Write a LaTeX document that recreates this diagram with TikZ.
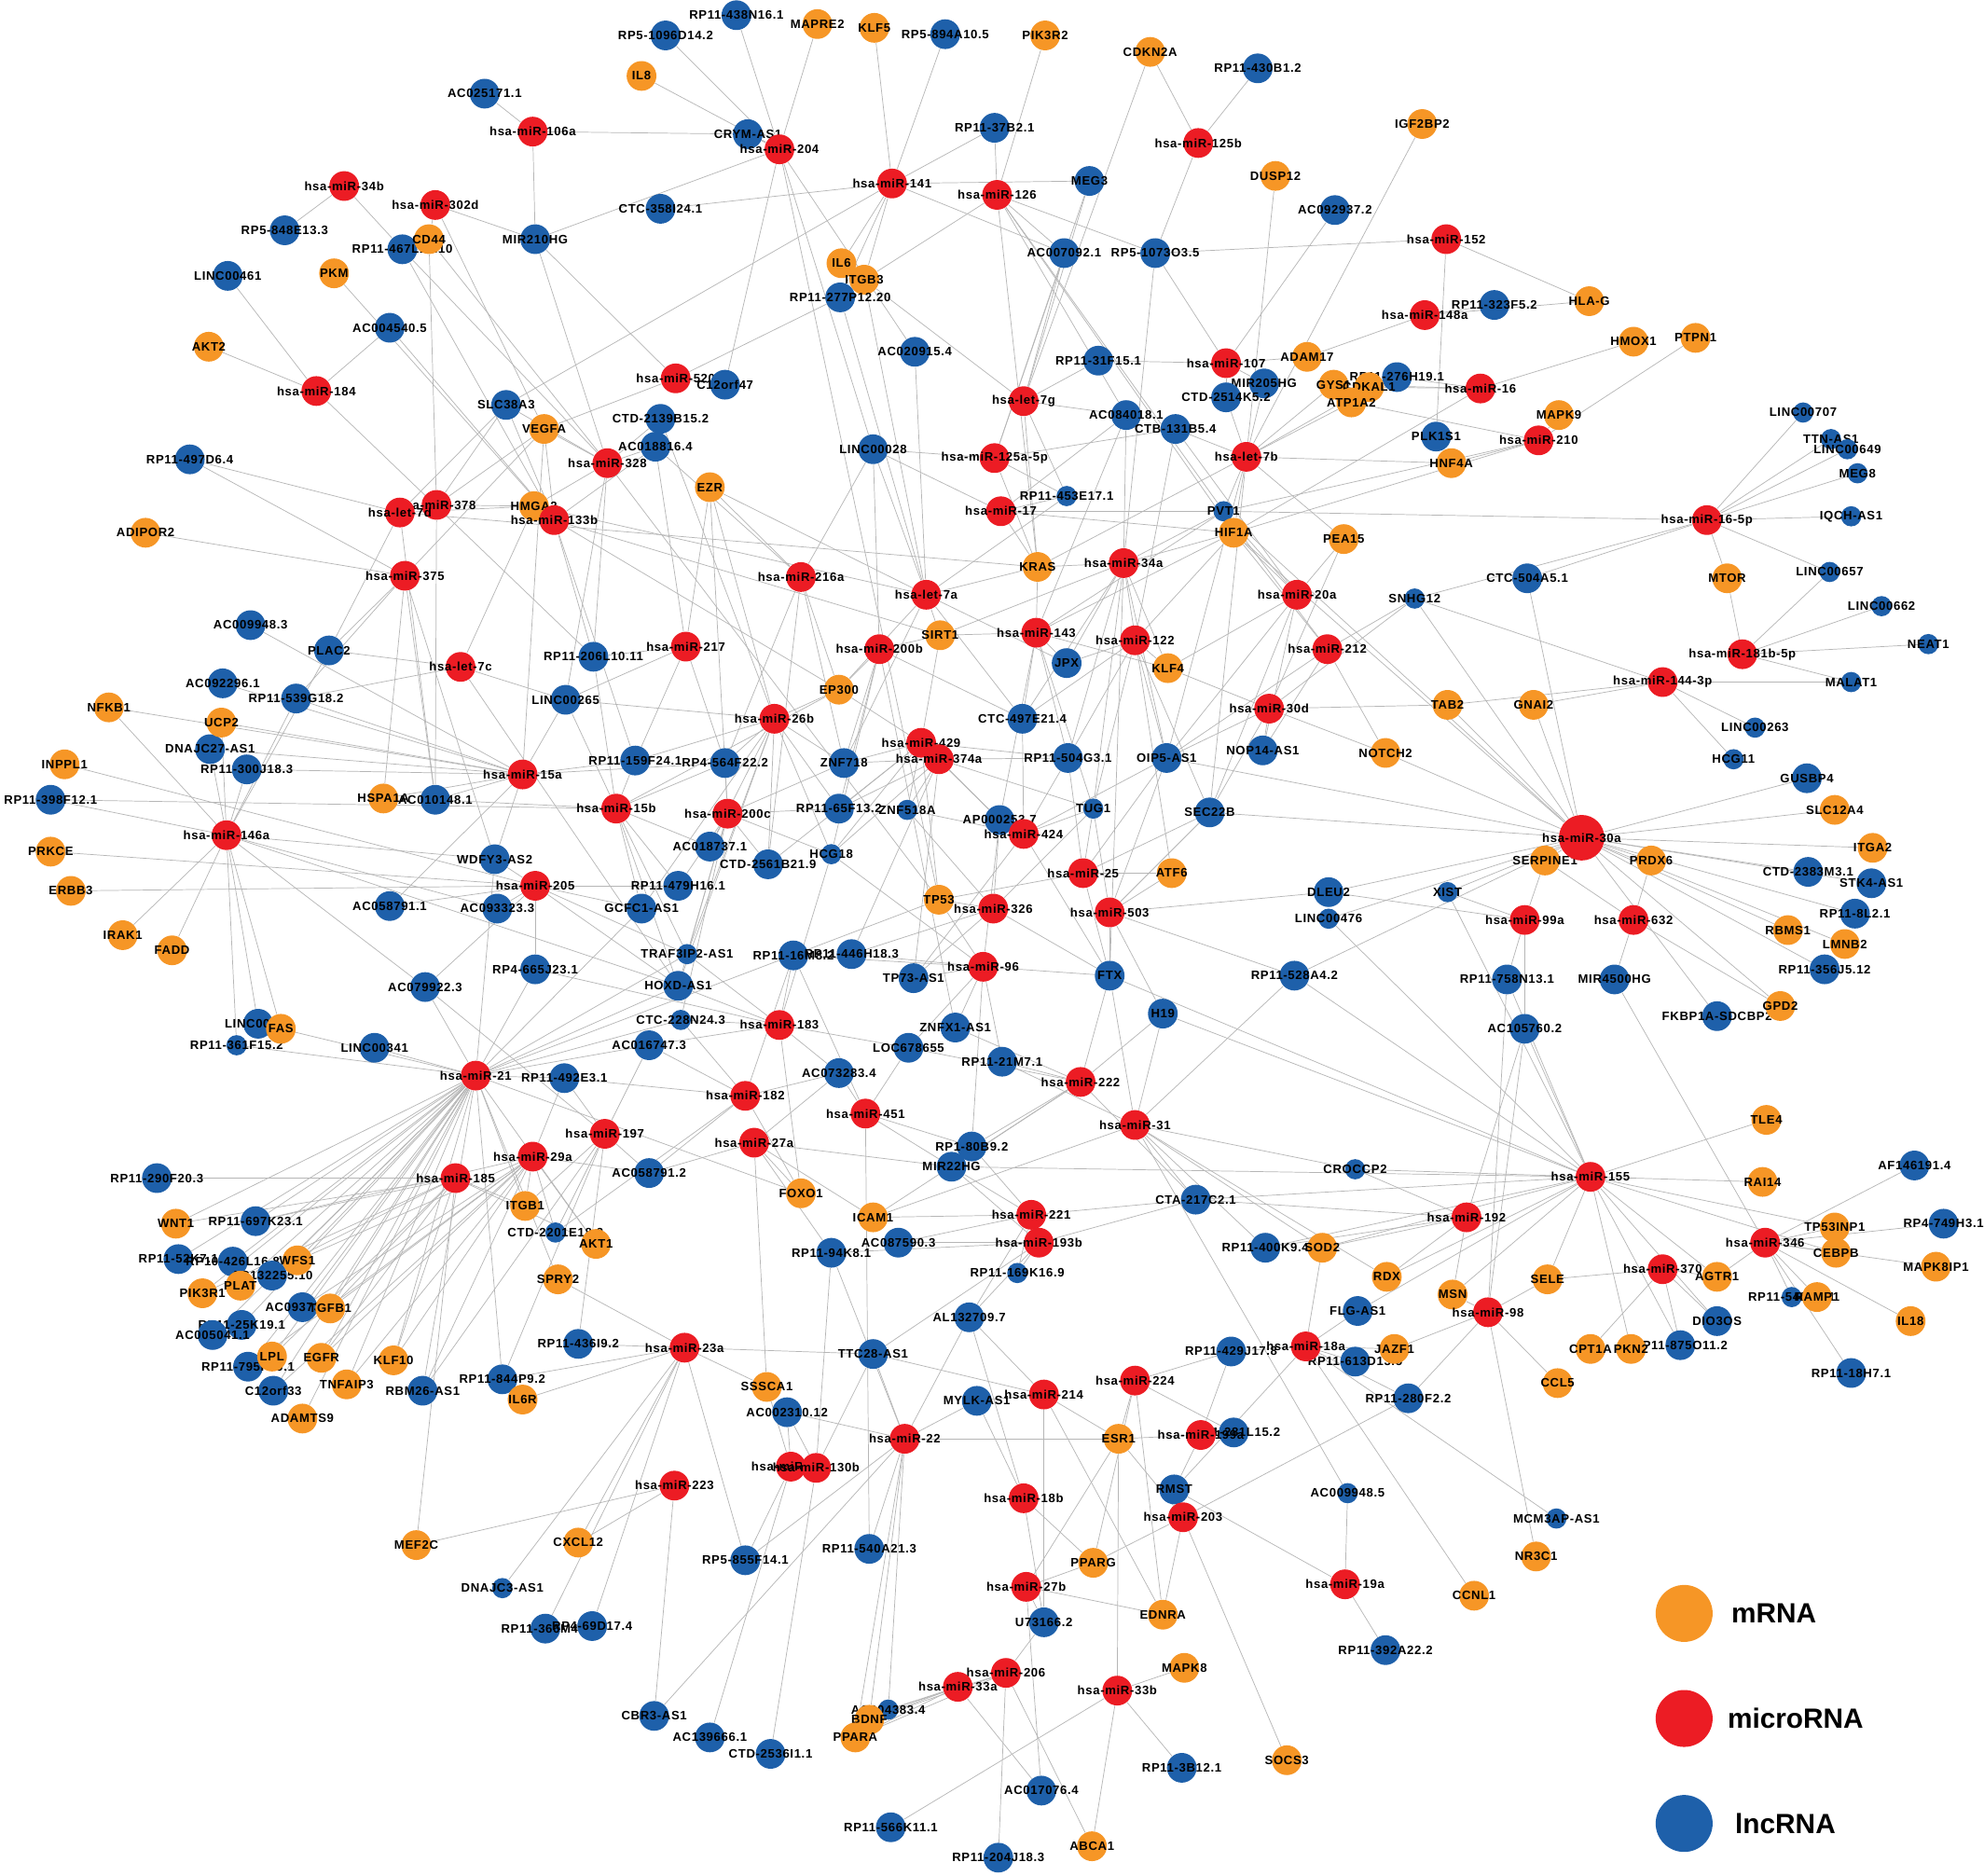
\documentclass[tikz,border=0pt]{standalone}
\usepackage{fontspec}
\setmainfont{Liberation Sans}
\newfontfamily\lblfont{Liberation Sans}[LetterSpace=5]
\usetikzlibrary{backgrounds}

\definecolor{mrnaorange}{RGB}{246,150,38}
\definecolor{mirred}{RGB}{236,28,36}
\definecolor{lncblue}{RGB}{30,96,170}
\definecolor{edgegray}{RGB}{182,182,182}

\tikzset{
  rnadot/.style={circle, inner sep=0pt, minimum size=0.47cm},
  lbl/.style={font=\lblfont\fontsize{5.5}{6}\selectfont\bfseries, inner sep=0pt, text=black},
  mrna/.style={rnadot, fill=mrnaorange, label={[lbl]center:#1}},
  mirna/.style={rnadot, fill=mirred, label={[lbl]center:#1}},
  lncrna/.style={rnadot, fill=lncblue, label={[lbl]center:#1}},
  smalldot/.style={minimum size=0.32cm},
  link/.style={draw=edgegray, line width=0.3pt},
  legdot/.style={circle, inner sep=0pt, minimum size=0.9cm},
  legtext/.style={anchor=west, inner sep=0pt, font=\fontsize{12.5}{14}\selectfont\bfseries},
}

\begin{document}
\begin{tikzpicture}[x=0.02cm, y=-0.02cm]
\useasboundingbox (0,0) rectangle (1568,1482);

% lncRNA nodes
\node[lncrna=RP11-438N16.1] (r438) at (582,12) {};
\node[lncrna=RP5-1096D14.2] (r1096) at (526,28) {};
\node[lncrna=RP5-894A10.5] (r894) at (747,27) {};
\node[lncrna=RP11-430B1.2] (r430) at (994,54) {};
\node[lncrna=AC025171.1] (ac0251) at (383,74) {};
\node[lncrna=CRYM-AS1] (crym) at (591,106) {};
\node[lncrna=RP11-37B2.1] (r37b) at (786,101) {};
\node[lncrna=MEG3] (meg3) at (861,143) {};
\node[lncrna=AC092937.2] (ac0929) at (1055,166) {};
\node[lncrna=RP5-848E13.3] (r848) at (225,182) {};
\node[lncrna=CTC-358I24.1] (ctc358) at (522,165) {};
\node[lncrna=MIR210HG] (mir210hg) at (423,189) {};
\node[lncrna=RP11-467L13.10] (r467) at (318,197) {};
\node[lncrna=LINC00461] (linc461) at (180,218) {};
\node[lncrna=AC007092.1] (ac7092) at (841,200) {};
\node[lncrna=RP5-1073O3.5] (r1073) at (913,200) {};
\node[lncrna=RP11-323F5.2] (r323) at (1181,241) {};
\node[lncrna=AC004540.5] (ac4540) at (308,259) {};
\node[lncrna=AC020915.4] (ac0209) at (723,278) {};
\node[lncrna=RP11-31F15.1] (r31f) at (868,285) {};
\node[lncrna=MIR205HG] (mir205hg) at (999,303) {};
\node[lncrna=CTD-2514K5.2] (ctd2514) at (969,314) {};
\node[lncrna=RP11-276H19.1] (r276) at (1104,298) {};
\node[lncrna=SLC38A3] (slc38a3) at (400,320) {};
\node[lncrna=AC084018.1] (ac0840) at (890,328) {};
\node[lncrna=CTD-2139B15.2] (ctd2139) at (522,331) {};
\node[lncrna=CTB-131B5.4] (ctb131) at (929,339) {};
\node[lncrna=LINC00707, smalldot] (linc707) at (1425,326) {};
\node[lncrna=PLK1S1] (plk1s1) at (1135,345) {};
\node[lncrna=TTN-AS1, smalldot] (ttnas1) at (1447,347) {};
\node[lncrna=LINC00649, smalldot] (linc649) at (1460,355) {};
\node[lncrna=MEG8, smalldot] (meg8) at (1468,374) {};
\node[lncrna=AC018816.4] (ac0188) at (518,353) {};
\node[lncrna=LINC00028] (linc028) at (690,355) {};
\node[lncrna=RP11-497D6.4] (r497) at (150,363) {};
\node[lncrna=RP11-453E17.1, smalldot] (r453) at (843,392) {};
\node[lncrna=PVT1, smalldot] (pvt1) at (967,404) {};
\node[lncrna=IQCH-AS1, smalldot] (iqch) at (1463,408) {};
\node[lncrna=LINC00657, smalldot] (linc657) at (1446,452) {};
\node[lncrna=SNHG12, smalldot] (snhg12) at (1118,473) {};
\node[lncrna=CTC-504A5.1] (ctc504) at (1207,457) {};
\node[lncrna=LINC00662, smalldot] (linc662) at (1487,479) {};
\node[lncrna=AC009948.3] (ac0099483) at (198,494) {};
\node[lncrna=PLAC2] (plac2) at (260,514) {};
\node[lncrna=NEAT1, smalldot] (neat1) at (1524,509) {};
\node[lncrna=RP11-206L10.11] (r206l) at (469,519) {};
\node[lncrna=JPX] (jpx) at (843,524) {};
\node[lncrna=AC092296.1] (ac0922) at (176,540) {};
\node[lncrna=MALAT1, smalldot] (malat1) at (1463,539) {};
\node[lncrna=LINC00265] (linc265) at (447,553) {};
\node[lncrna=RP11-539G18.2] (r539) at (234,552) {};
\node[lncrna=CTC-497E21.4] (ctc497) at (808,568) {};
\node[lncrna=DNAJC27-AS1] (dnajc27) at (166,592) {};
\node[lncrna=LINC00263, smalldot] (linc263) at (1387,575) {};
\node[lncrna=ZNF718] (znf718) at (667,603) {};
\node[lncrna=RP4-564F22.2] (r564) at (573,603) {};
\node[lncrna=RP11-159F24.1] (r159) at (502,601) {};
\node[lncrna=RP11-504G3.1] (r504) at (844,599) {};
\node[lncrna=OIP5-AS1] (oip5) at (922,599) {};
\node[lncrna=NOP14-AS1] (nop14) at (998,593) {};
\node[lncrna=RP11-300J18.3] (r300) at (195,608) {};
\node[lncrna=HCG11, smalldot] (hcg11) at (1370,600) {};
\node[lncrna=GUSBP4] (gusbp4) at (1428,615) {};
\node[lncrna=RP11-398F12.1] (r398) at (40,632) {};
\node[lncrna=AC010148.1] (ac0101) at (344,632) {};
\node[lncrna=RP11-65F13.2] (r65) at (663,639) {};
\node[lncrna=TUG1, smalldot] (tug1) at (864,639) {};
\node[lncrna=SEC22B] (sec22b) at (956,642) {};
\node[lncrna=ZNF518A, smalldot] (znf518a) at (717,640) {};
\node[lncrna=AP000253.7] (ap0002) at (790,648) {};
\node[lncrna=AC018737.1] (ac0187) at (561,669) {};
\node[lncrna=HCG18, smalldot] (hcg18) at (657,675) {};
\node[lncrna=WDFY3-AS2] (wdfy3) at (391,679) {};
\node[lncrna=CTD-2383M3.1] (ctd2383) at (1429,689) {};
\node[lncrna=STK4-AS1] (stk4) at (1479,698) {};
\node[lncrna=CTD-2561B21.9] (ctd2561) at (607,683) {};
\node[lncrna=RP11-479H16.1] (r479) at (536,700) {};
\node[lncrna=AC058791.1] (ac0587911) at (308,716) {};
\node[lncrna=AC093323.3] (ac0933) at (393,718) {};
\node[lncrna=GCFC1-AS1] (gcfc1) at (507,718) {};
\node[lncrna=DLEU2] (dleu2) at (1050,705) {};
\node[lncrna=XIST, smalldot] (xist) at (1144,705) {};
\node[lncrna=LINC00476, smalldot] (linc476) at (1050,726) {};
\node[lncrna=RP11-8L2.1] (r8l2) at (1466,722) {};
\node[lncrna=TRAF3IP2-AS1, smalldot] (traf3) at (543,754) {};
\node[lncrna=RP11-16M8.2] (r16m) at (627,755) {};
\node[lncrna=RP11-446H18.3] (r446) at (673,754) {};
\node[lncrna=AC079922.3] (ac0799) at (336,780) {};
\node[lncrna=RP4-665J23.1] (r665) at (423,766) {};
\node[lncrna=FTX] (ftx) at (877,771) {};
\node[lncrna=RP11-528A4.2] (r528) at (1023,771) {};
\node[lncrna=MIR4500HG] (mir4500) at (1276,774) {};
\node[lncrna=RP11-356J5.12] (r356) at (1442,766) {};
\node[lncrna=HOXD-AS1] (hoxd) at (536,779) {};
\node[lncrna=TP73-AS1] (tp73) at (722,773) {};
\node[lncrna=RP11-758N13.1] (r758) at (1191,774) {};
\node[lncrna=H19] (h19) at (919,801) {};
\node[lncrna=FKBP1A-SDCBP2] (fkbp1a) at (1357,803) {};
\node[lncrna=LINC00116] (linc116) at (204,809) {};
\node[lncrna=CTC-228N24.3, smalldot] (ctc228) at (538,806) {};
\node[lncrna=ZNFX1-AS1] (znfx1) at (755,812) {};
\node[lncrna=AC105760.2] (ac1057) at (1205,813) {};
\node[lncrna=LINC00341] (linc341) at (296,828) {};
\node[lncrna=RP11-361F15.2, smalldot] (r361) at (187,826) {};
\node[lncrna=AC016747.3] (ac0167) at (513,826) {};
\node[lncrna=LOC678655] (loc678) at (718,828) {};
\node[lncrna=RP11-21M7.1] (r21m7) at (792,839) {};
\node[lncrna=RP11-492E3.1] (r492) at (446,852) {};
\node[lncrna=AC073283.4] (ac0732) at (663,848) {};
\node[lncrna=RP1-80B9.2] (r80b9) at (768,906) {};
\node[lncrna=MIR22HG] (mir22hg) at (752,922) {};
\node[lncrna=AF146191.4] (af146) at (1513,921) {};
\node[lncrna=AC058791.2] (ac0587912) at (513,927) {};
\node[lncrna=CROCCP2, smalldot] (croccp2) at (1071,924) {};
\node[lncrna=RP11-290F20.3] (r290) at (124,931) {};
\node[lncrna=CTA-217C2.1] (cta217) at (945,948) {};
\node[lncrna=CTD-2201E18.3, smalldot] (ctd2201) at (439,974) {};
\node[lncrna=RP4-749H3.1] (r749) at (1536,967) {};
\node[lncrna=RP11-697K23.1] (r697) at (202,965) {};
\node[lncrna=AC087590.3] (ac0875) at (710,982) {};
\node[lncrna=RP11-94K8.1] (r94k) at (657,990) {};
\node[lncrna=RP11-400K9.4] (r400k) at (1000,986) {};
\node[lncrna=RP11-52K7.1] (r52k) at (141,995) {};
\node[lncrna=RP10-426L16.8] (r426) at (184,997) {};
\node[lncrna=AC132255.10] (r32255) at (215,1008) {};
\node[lncrna=RP11-169K16.9, smalldot] (r169) at (804,1006) {};
\node[lncrna=RP11-540A2.1, smalldot] (r540) at (1416,1025) {};
\node[lncrna=DIO3OS] (dio3os) at (1357,1044) {};
\node[lncrna=AC093734.1] (ac0937) at (239,1033) {};
\node[lncrna=RP11-25K19.1] (r25k) at (191,1047) {};
\node[lncrna=AC005041.1] (ac0050) at (168,1055) {};
\node[lncrna=AL132709.7] (al1327) at (766,1041) {};
\node[lncrna=FLG-AS1] (flgas1) at (1073,1036) {};
\node[lncrna=RP11-875O11.2] (r875) at (1328,1063) {};
\node[lncrna=RP11-18H7.1] (r18h7) at (1463,1085) {};
\node[lncrna=RP11-436I9.2] (r436) at (457,1062) {};
\node[lncrna=RP11-795F19.1] (rp795) at (196,1080) {};
\node[lncrna=TTC28-AS1] (ttc28) at (690,1070) {};
\node[lncrna=RP11-429J17.8] (r429j) at (973,1068) {};
\node[lncrna=RP11-613D13.5] (r613) at (1071,1076) {};
\node[lncrna=C12orf33] (c12orf33) at (216,1099) {};
\node[lncrna=RP11-844P9.2] (r844) at (397,1090) {};
\node[lncrna=RBM26-AS1] (rbm26) at (334,1099) {};
\node[lncrna=MYLK-AS1] (mylk) at (772,1107) {};
\node[lncrna=RP11-280F2.2] (r280) at (1113,1105) {};
\node[lncrna=AC002310.12] (ac0023) at (622,1116) {};
\node[lncrna=RP11-281L15.2] (r81l) at (975,1132) {};
\node[lncrna=RMST] (rmst) at (928,1177) {};
\node[lncrna=AC009948.5, smalldot] (ac0099485) at (1065,1180) {};
\node[lncrna=MCM3AP-AS1, smalldot] (mcm3ap) at (1230,1200) {};
\node[lncrna=RP5-855F14.1] (r855) at (589,1233) {};
\node[lncrna=RP11-540A21.3] (r540a) at (687,1224) {};
\node[lncrna=DNAJC3-AS1, smalldot] (dnajc3) at (397,1255) {};
\node[lncrna=U73166.2] (u73166) at (825,1282) {};
\node[lncrna=RP11-366M4.1] (r366) at (431,1287) {};
\node[lncrna=RP4-69D17.4] (r69d) at (468,1285) {};
\node[lncrna=RP11-392A22.2] (r392) at (1095,1304) {};
\node[lncrna=CBR3-AS1] (cbr3) at (517,1356) {};
\node[lncrna=AC004383.4, smalldot] (ac0043) at (702,1351) {};
\node[lncrna=AC139666.1] (ac1396) at (561,1373) {};
\node[lncrna=CTD-2536I1.1] (ctd2536) at (609,1386) {};
\node[lncrna=RP11-3B12.1] (r3b12) at (934,1397) {};
\node[lncrna=AC017076.4] (ac0170) at (823,1415) {};
\node[lncrna=RP11-566K11.1] (r566) at (704,1444) {};
\node[lncrna=RP11-204J18.3] (r204j) at (789,1468) {};

% mRNA nodes
\node[mrna=MAPRE2] (mapre2) at (646,19) {};
\node[mrna=KLF5] (klf5) at (691,22) {};
\node[mrna=PIK3R2] (pik3r2) at (826,28) {};
\node[mrna=CDKN2A] (cdkn2a) at (909,41) {};
\node[mrna=IL8] (il8) at (507,60) {};
\node[mrna=IGF2BP2] (igf2bp2) at (1124,98) {};
\node[mrna=DUSP12] (dusp12) at (1008,139) {};
\node[mrna=CD44] (cd44) at (339,189) {};
\node[mrna=PKM] (pkm) at (264,216) {};
\node[mrna=IL6] (il6) at (665,208) {};
\node[mrna=ITGB3] (itgb3) at (683,221) {};
\node[lncrna=RP11-277P12.20] (r277) at (664,235) {};
\node[mrna=HLA-G] (hlag) at (1256,238) {};
\node[mrna=AKT2] (akt2) at (165,274) {};
\node[mrna=HMOX1] (hmox1) at (1291,270) {};
\node[mrna=PTPN1] (ptpn1) at (1340,267) {};
\node[mrna=ADAM17] (adam17) at (1033,282) {};
\node[mrna=GYS1] (gys1) at (1054,304) {};
\node[mrna=CDKAL1] (cdkal1) at (1082,306) {};
\node[mrna=ATP1A2] (atp1a2) at (1068,318) {};
\node[mrna=MAPK9] (mapk9) at (1232,328) {};
\node[mrna=VEGFA] (vegfa) at (430,339) {};
\node[mrna=HNF4A] (hnf4a) at (1147,366) {};
\node[mrna=EZR] (ezr) at (561,385) {};
\node[mrna=HMGA2] (hmga2) at (422,400) {};
\node[mrna=HIF1A] (hif1a) at (975,421) {};
\node[mrna=ADIPOR2] (adipor2) at (115,421) {};
\node[mrna=PEA15] (pea15) at (1062,426) {};
\node[mrna=KRAS] (kras) at (820,448) {};
\node[mrna=MTOR] (mtor) at (1365,457) {};
\node[mrna=SIRT1] (sirt1) at (743,502) {};
\node[mrna=KLF4] (klf4) at (923,528) {};
\node[mrna=NFKB1] (nfkb1) at (86,559) {};
\node[mrna=EP300] (ep300) at (663,545) {};
\node[mrna=TAB2] (tab2) at (1144,557) {};
\node[mrna=GNAI2] (gnai2) at (1212,557) {};
\node[mrna=UCP2] (ucp2) at (175,571) {};
\node[mrna=NOTCH2] (notch2) at (1095,595) {};
\node[mrna=INPPL1] (inppl1) at (51,604) {};
\node[mrna=HSPA1A] (hspa1a) at (303,631) {};
\node[mrna=SLC12A4] (slc12a4) at (1450,640) {};
\node[mrna=ITGA2] (itga2) at (1480,670) {};
\node[mrna=PRDX6] (prdx6) at (1305,680) {};
\node[mrna=SERPINE1] (serpine1) at (1221,680) {};
\node[mrna=PRKCE] (prkce) at (40,673) {};
\node[mrna=ATF6] (atf6) at (926,690) {};
\node[mrna=ERBB3] (erbb3) at (56,704) {};
\node[mrna=TP53] (tp53) at (742,711) {};
\node[mrna=RBMS1] (rbms1) at (1413,735) {};
\node[mrna=LMNB2] (lmnb2) at (1458,746) {};
\node[mrna=IRAK1] (irak1) at (97,739) {};
\node[mrna=FADD] (fadd) at (136,751) {};
\node[mrna=GPD2] (gpd2) at (1407,795) {};
\node[mrna=FAS] (fas) at (222,813) {};
\node[mrna=TLE4] (tle4) at (1396,885) {};
\node[mrna=RAI14] (rai14) at (1393,934) {};
\node[mrna=FOXO1] (foxo1) at (633,943) {};
\node[mrna=ICAM1] (icam1) at (690,962) {};
\node[mrna=ITGB1] (itgb1) at (415,953) {};
\node[mrna=WNT1] (wnt1) at (139,967) {};
\node[mrna=TP53INP1] (tp53inp1) at (1450,970) {};
\node[mrna=CEBPB] (cebpb) at (1451,990) {};
\node[mrna=MAPK8IP1] (mapk8ip1) at (1530,1001) {};
\node[mrna=AKT1] (akt1) at (471,983) {};
\node[mrna=SOD2] (sod2) at (1045,986) {};
\node[mrna=WFS1] (wfs1) at (235,996) {};
\node[mrna=PIK3R1] (pik3r1) at (160,1022) {};
\node[mrna=PLAT] (plat) at (190,1016) {};
\node[mrna=SPRY2] (spry2) at (441,1011) {};
\node[mrna=RDX] (rdx) at (1096,1009) {};
\node[mrna=MSN] (msn) at (1148,1023) {};
\node[mrna=SELE] (sele) at (1223,1011) {};
\node[mrna=AGTR1] (agtr1) at (1357,1009) {};
\node[mrna=RAMP1] (ramp1) at (1436,1025) {};
\node[mrna=IL18] (il18) at (1510,1044) {};
\node[mrna=TGFB1] (tgfb1) at (261,1034) {};
\node[mrna=CPT1A] (cpt1a) at (1257,1066) {};
\node[mrna=PKN2] (pkn2) at (1289,1066) {};
\node[mrna=LPL] (lpl) at (215,1072) {};
\node[mrna=EGFR] (egfr) at (254,1073) {};
\node[mrna=KLF10] (klf10) at (311,1075) {};
\node[mrna=JAZF1] (jazf1) at (1102,1066) {};
\node[mrna=SSSCA1] (sssca1) at (606,1096) {};
\node[mrna=TNFAIP3] (tnfaip3) at (274,1094) {};
\node[mrna=IL6R] (il6r) at (413,1106) {};
\node[mrna=CCL5] (ccl5) at (1231,1093) {};
\node[mrna=ADAMTS9] (adamts9) at (239,1121) {};
\node[mrna=ESR1] (esr1) at (884,1137) {};
\node[mrna=CXCL12] (cxcl12) at (457,1219) {};
\node[mrna=MEF2C] (mef2c) at (329,1221) {};
\node[mrna=PPARG] (pparg) at (864,1235) {};
\node[mrna=NR3C1] (nr3c1) at (1214,1230) {};
\node[mrna=CCNL1] (ccnl1) at (1165,1261) {};
\node[mrna=EDNRA] (ednra) at (919,1276) {};
\node[mrna=MAPK8] (mapk8) at (936,1318) {};
\node[mrna=BDNF] (bdnf) at (687,1359) {};
\node[mrna=PPARA] (ppara) at (676,1373) {};
\node[mrna=SOCS3] (socs3) at (1017,1391) {};
\node[mrna=ABCA1] (abca1) at (863,1459) {};

% miRNA nodes
\node[mirna=hsa-miR-106a] (r106a) at (421,104) {};
\node[mirna=hsa-miR-204] (r204) at (616,118) {};
\node[mirna=hsa-miR-125b] (r125b) at (947,113) {};
\node[mirna=hsa-miR-34b] (r34b) at (272,147) {};
\node[mirna=hsa-miR-141] (r141) at (705,145) {};
\node[mirna=hsa-miR-126] (r126) at (788,154) {};
\node[mirna=hsa-miR-302d] (r302d) at (344,162) {};
\node[mirna=hsa-miR-152] (r152) at (1143,189) {};
\node[mirna=hsa-miR-148a] (r148a) at (1126,249) {};
\node[mirna=hsa-miR-107] (r107) at (969,287) {};
\node[mirna=hsa-miR-16] (r16) at (1170,307) {};
\node[mirna=hsa-miR-184] (r184) at (250,309) {};
\node[mirna=hsa-miR-520] (r520) at (534,299) {};
\node[lncrna=C12orf47] (c12orf47) at (573,304) {};
\node[mirna=hsa-let-7g] (let7g) at (809,317) {};
\node[mirna=hsa-miR-210] (r210) at (1216,348) {};
\node[mirna=hsa-miR-125a-5p] (r125a) at (786,362) {};
\node[mirna=hsa-let-7b] (let7b) at (985,361) {};
\node[mirna=hsa-miR-328] (r328) at (480,366) {};
\node[mirna=hsa-miR-378] (r378) at (345,399) {};
\node[mirna=hsa-let-7d] (let7d) at (316,405) {};
\node[mirna=hsa-miR-133b] (r133b) at (438,411) {};
\node[mirna=hsa-miR-17] (r17) at (791,404) {};
\node[mirna=hsa-miR-16-5p] (r165p) at (1349,411) {};
\node[mirna=hsa-miR-34a] (r34a) at (888,445) {};
\node[mirna=hsa-miR-375] (r375) at (320,455) {};
\node[mirna=hsa-miR-216a] (r216a) at (633,456) {};
\node[mirna=hsa-let-7a] (let7a) at (732,470) {};
\node[mirna=hsa-miR-20a] (r20a) at (1025,470) {};
\node[mirna=hsa-miR-143] (r143) at (819,500) {};
\node[mirna=hsa-miR-122] (r122) at (897,506) {};
\node[mirna=hsa-miR-200b] (r200b) at (695,513) {};
\node[mirna=hsa-miR-217] (r217) at (542,511) {};
\node[mirna=hsa-miR-212] (r212) at (1049,513) {};
\node[mirna=hsa-miR-181b-5p] (r181b) at (1377,517) {};
\node[mirna=hsa-let-7c] (let7c) at (364,527) {};
\node[mirna=hsa-miR-144-3p] (r1443p) at (1314,539) {};
\node[mirna=hsa-miR-30d] (r30d) at (1003,560) {};
\node[mirna=hsa-miR-26b] (r26b) at (612,568) {};
\node[mirna=hsa-miR-429] (r429) at (728,587) {};
\node[mirna=hsa-miR-374a] (r374a) at (742,600) {};
\node[mirna=hsa-miR-15a] (r15a) at (413,612) {};
\node[mirna=hsa-miR-15b] (r15b) at (487,639) {};
\node[mirna=hsa-miR-200c] (r200c) at (575,643) {};
\node[mirna=hsa-miR-30a, minimum size=0.72cm] (r30a) at (1250,662) {};
\node[mirna=hsa-miR-424] (r424) at (809,659) {};
\node[mirna=hsa-miR-146a] (r146a) at (179,660) {};
\node[mirna=hsa-miR-25] (r25) at (856,690) {};
\node[mirna=hsa-miR-205] (r205) at (423,700) {};
\node[mirna=hsa-miR-326] (r326) at (785,718) {};
\node[mirna=hsa-miR-503] (r503) at (877,721) {};
\node[mirna=hsa-miR-99a] (r99a) at (1205,727) {};
\node[mirna=hsa-miR-632] (r632) at (1291,727) {};
\node[mirna=hsa-miR-96] (r96) at (777,764) {};
\node[mirna=hsa-miR-183] (r183) at (616,810) {};
\node[mirna=hsa-miR-21] (r21) at (376,850) {};
\node[mirna=hsa-miR-222] (r222) at (854,855) {};
\node[mirna=hsa-miR-182] (r182) at (589,866) {};
\node[mirna=hsa-miR-451] (r451) at (684,880) {};
\node[mirna=hsa-miR-31] (r31) at (897,889) {};
\node[mirna=hsa-miR-197] (r197) at (478,896) {};
\node[mirna=hsa-miR-27a] (r27a) at (596,903) {};
\node[mirna=hsa-miR-29a] (r29a) at (421,914) {};
\node[mirna=hsa-miR-155] (r155) at (1257,930) {};
\node[mirna=hsa-miR-185] (r185) at (360,931) {};
\node[mirna=hsa-miR-221] (r221) at (815,960) {};
\node[mirna=hsa-miR-192] (r192) at (1159,962) {};
\node[mirna=hsa-miR-193b] (r193b) at (821,982) {};
\node[mirna=hsa-miR-346] (r346) at (1395,982) {};
\node[mirna=hsa-miR-370] (r370) at (1314,1003) {};
\node[mirna=hsa-miR-98] (r98) at (1176,1037) {};
\node[mirna=hsa-miR-23a] (r23a) at (541,1065) {};
\node[mirna=hsa-miR-18a] (r18a) at (1032,1064) {};
\node[mirna=hsa-miR-224] (r224) at (897,1091) {};
\node[mirna=hsa-miR-214] (r214) at (825,1102) {};
\node[mirna=hsa-miR-22] (r22) at (715,1137) {};
\node[mirna=hsa-miR-199a] (r199a) at (949,1134) {};
\node[mirna=hsa-miR-186] (r186) at (625,1159) {};
\node[mirna=hsa-miR-130b] (r130b) at (645,1160) {};
\node[mirna=hsa-miR-223] (r223) at (533,1174) {};
\node[mirna=hsa-miR-18b] (r18b) at (809,1184) {};
\node[mirna=hsa-miR-203] (r203) at (935,1199) {};
\node[mirna=hsa-miR-27b] (r27b) at (811,1254) {};
\node[mirna=hsa-miR-19a] (r19a) at (1063,1252) {};
\node[mirna=hsa-miR-206] (r206) at (795,1322) {};
\node[mirna=hsa-miR-33a] (r33a) at (757,1333) {};
\node[mirna=hsa-miR-33b] (r33b) at (883,1336) {};

% legend
\node[legdot, fill=mrnaorange] (legm) at (1331,1275) {};
\node[legtext] (legmtxt) at (1368,1275) {mRNA};
\node[legdot, fill=mirred] (legmi) at (1331,1358) {};
\node[legtext] (legmitxt) at (1365,1358) {microRNA};
\node[legdot, fill=lncblue] (legl) at (1331,1441) {};
\node[legtext] (legltxt) at (1371,1441) {lncRNA};

% interactions
\begin{scope}[on background layer]
\fill[white] (0,0) rectangle (1568,1482);
\foreach \t in {crym,mir210hg,ac0251} \draw[link] (r106a) -- (\t);
\foreach \t in {crym,r438,mapre2,r1096,il8,mir210hg,c12orf47,ac0209,linc028,tp53} \draw[link] (r204) -- (\t);
\foreach \t in {klf5,r894,r37b,ctc358,il6,itgb3,ac7092,meg3,slc38a3,r277} \draw[link] (r141) -- (\t);
\foreach \t in {pik3r2,r37b,itgb3,ac7092,r1073,ac0840,kras,pvt1,hif1a} \draw[link] (r126) -- (\t);
\foreach \t in {cdkn2a,r430,r1073} \draw[link] (r125b) -- (\t);
\foreach \t in {r848,r467} \draw[link] (r34b) -- (\t);
\foreach \t in {mir210hg,vegfa,cd44} \draw[link] (r302d) -- (\t);
\foreach \t in {linc461,akt2,ac4540,r206l} \draw[link] (r184) -- (\t);
\foreach \t in {mir210hg,vegfa,c12orf47,r277} \draw[link] (r520) -- (\t);
\foreach \t in {ac0188,ctd2139,vegfa,hmga2,mir210hg,cd44,r467,slc38a3,tp53,r206l,linc265} \draw[link] (r328) -- (\t);
\foreach \t in {pkm,ac4540,r467,hmga2,vegfa,slc38a3,sirt1,ep300,r206l,r159,ac0188} \draw[link] (r133b) -- (\t);
\foreach \t in {slc38a3,hmga2,vegfa,ac0101,cd44} \draw[link] (r378) -- (\t);
\foreach \t in {hmga2,slc38a3,kras,ac0101,plac2,r497} \draw[link] (let7d) -- (\t);
\foreach \t in {adipor2,r497,vegfa,plac2,ac0101,r539,wdfy3,hspa1a} \draw[link] (r375) -- (\t);
\foreach \t in {plac2,hmga2,linc265,hoxd,r539} \draw[link] (let7c) -- (\t);
\foreach \t in {nfkb1,r398,irak1,fadd,linc116,fas,r361,r300,r539,dnajc27,ucp2,wdfy3,ac0933,ac0799,plac2,hoxd} \draw[link] (r146a) -- (\t);
\foreach \t in {ucp2,dnajc27,r300,r539,ac0922,nfkb1,hspa1a,ac0101,wdfy3,r159,r564,linc265,ac0099483,vegfa,ac0587911} \draw[link] (r15a) -- (\t);
\foreach \t in {r159,linc265,ac0187,gcfc1,r479,hoxd,r564,ep300,traf3,ac0101,r398,r206l} \draw[link] (r15b) -- (\t);
\foreach \t in {wdfy3,ac0933,ac0587911,erbb3,prkce,inppl1,gcfc1,r665,ac0799,hoxd,r479,traf3} \draw[link] (r205) -- (\t);
\foreach \t in {r206l,linc265,r564,ezr,ac0188,r159} \draw[link] (r217) -- (\t);
\foreach \t in {ezr,ac0188,linc028,r564,znf718,ctd2561,ep300} \draw[link] (r216a) -- (\t);
\foreach \t in {ep300,r564,znf718,r65,ac0187,ctd2561,hcg18,traf3,hoxd,gcfc1,ctd2139,ezr,linc265,r159} \draw[link] (r26b) -- (\t);
\foreach \t in {r564,ac0187,ctd2561,r479,hcg18,znf718,r65,traf3,hoxd,ctc228,ezr} \draw[link] (r200c) -- (\t);
\foreach \t in {sirt1,ep300,znf718,r65,linc028,ctc497,hcg18,znfx1} \draw[link] (r200b) -- (\t);
\foreach \t in {znf718,r65,znf518a,ap0002,tp53,ctd2561,hcg18,ep300,sirt1,r504} \draw[link] (r429) -- (\t);
\foreach \t in {znf718,znf518a,r65,tug1,ap0002,r504,tp73,hcg18,r446} \draw[link] (r374a) -- (\t);
\foreach \t in {linc028,r277,itgb3,kras,sirt1,ep300,ac0209,hmga2,ezr,r453,znf718,ctc497,jpx} \draw[link] (let7a) -- (\t);
\foreach \t in {kras,sirt1,jpx,ctc497,r504,klf4,pvt1,hif1a,tug1,ap0002,ac0840} \draw[link] (r143) -- (\t);
\foreach \t in {jpx,klf4,oip5,r504,tug1,ctb131,hif1a,ctc497,sec22b} \draw[link] (r122) -- (\t);
\foreach \t in {ac0840,r453,kras,pvt1,linc028,hif1a} \draw[link] (r17) -- (\t);
\foreach \t in {meg3,ac7092,r453,kras,ctb131,linc028} \draw[link] (r125a) -- (\t);
\foreach \t in {cdkn2a,meg3,r31f,ac0840,r453,kras,ac7092,itgb3} \draw[link] (let7g) -- (\t);
\foreach \t in {ac0840,r1073,hif1a,pvt1,kras,sirt1,jpx,klf4,oip5,tug1,r504,ctc497,atf6,ftx} \draw[link] (r34a) -- (\t);
\foreach \t in {r31f,ac0929,mir205hg,ctd2514,r1073,adam17} \draw[link] (r107) -- (\t);
\foreach \t in {dusp12,igf2bp2,mir205hg,ctd2514,ctb131,pvt1,hif1a,gys1,atp1a2,cdkal1,hnf4a,pea15,kras,oip5,sec22b} \draw[link] (let7b) -- (\t);
\foreach \t in {hif1a,pvt1,ctb131,pea15,oip5,sec22b,klf4,nop14} \draw[link] (r20a) -- (\t);
\foreach \t in {hif1a,pvt1,oip5,nop14,snhg12,notch2} \draw[link] (r212) -- (\t);
\foreach \t in {nop14,tab2,oip5,klf4,sec22b,notch2,pea15,snhg12} \draw[link] (r30d) -- (\t);
\foreach \t in {hmox1,r276,cdkal1,gys1,hif1a} \draw[link] (r16) -- (\t);
\foreach \t in {hlag,r323,adam17} \draw[link] (r148a) -- (\t);
\foreach \t in {r1073,plk1s1,hlag} \draw[link] (r152) -- (\t);
\foreach \t in {ptpn1,mapk9,hnf4a,atp1a2,hif1a,pvt1} \draw[link] (r210) -- (\t);
\foreach \t in {linc707,ttnas1,linc649,meg8,iqch,linc657,mtor,pvt1,snhg12,ctc504} \draw[link] (r165p) -- (\t);
\foreach \t in {neat1,malat1,mtor,linc657,linc662} \draw[link] (r181b) -- (\t);
\foreach \t in {malat1,gnai2,linc263,hcg11,tab2,snhg12} \draw[link] (r1443p) -- (\t);
\foreach \t in {gusbp4,slc12a4,itga2,ctd2383,stk4,r8l2,rbms1,lmnb2,r356,gpd2,fkbp1a,prdx6,serpine1,gnai2,tab2,xist,dleu2,linc476,snhg12,notch2,hif1a,sec22b,ctc504,pvt1,oip5,r528} \draw[link] (r30a) -- (\t);
\foreach \t in {serpine1,r758,ac1057,xist,dleu2} \draw[link] (r99a) -- (\t);
\foreach \t in {prdx6,mir4500,serpine1,gpd2} \draw[link] (r632) -- (\t);
\foreach \t in {tle4,rai14,tp53inp1,cebpb,agtr1,sele,msn,dio3os,r875,pkn2,ac1057,r758,croccp2,cta217,sod2,rdx,flgas1,r400k,xist,r528,linc476,h19,ftx,mir22hg} \draw[link] (r155) -- (\t);
\foreach \t in {af146,r749,tp53inp1,cebpb,mapk8ip1,il18,r540,ramp1,r18h7,mir4500,agtr1} \draw[link] (r346) -- (\t);
\foreach \t in {agtr1,dio3os,r875,cpt1a,sele} \draw[link] (r370) -- (\t);
\foreach \t in {croccp2,sod2,rdx,msn,r400k,cta217,ac1057} \draw[link] (r192) -- (\t);
\foreach \t in {msn,jazf1,ccl5,r280,sele,ac1057,r758,nr3c1} \draw[link] (r98) -- (\t);
\foreach \t in {r429j,r613,jazf1,sod2,flgas1,rmst,r280,ccnl1,mcm3ap} \draw[link] (r18a) -- (\t);
\foreach \t in {ac0099485,r392,rmst} \draw[link] (r19a) -- (\t);
\foreach \t in {rmst,esr1,ednra,socs3,r280,pparg} \draw[link] (r203) -- (\t);
\foreach \t in {esr1,r81l,rmst,r429j} \draw[link] (r199a) -- (\t);
\foreach \t in {esr1,ednra,r429j,r81l,pparg} \draw[link] (r224) -- (\t);
\foreach \t in {esr1,mylk,u73166,ednra,al1327,ttc28} \draw[link] (r214) -- (\t);
\foreach \t in {mylk,pparg,u73166,al1327} \draw[link] (r18b) -- (\t);
\foreach \t in {pparg,u73166,ednra,esr1,ac0170} \draw[link] (r27b) -- (\t);
\foreach \t in {u73166,bdnf,r204j,ac0043,ppara,abca1} \draw[link] (r206) -- (\t);
\foreach \t in {bdnf,ppara,ac0043,ac0170} \draw[link] (r33a) -- (\t);
\foreach \t in {abca1,r3b12,esr1,mapk8,r566} \draw[link] (r33b) -- (\t);
\foreach \t in {ttc28,mylk,r540a,bdnf,ppara,ac0043,r855,cbr3,ac0023,r94k,al1327,esr1} \draw[link] (r22) -- (\t);
\foreach \t in {ac0023,ctd2536,ttc28,r94k} \draw[link] (r130b) -- (\t);
\foreach \t in {ac1396,r855,ac0023,sssca1} \draw[link] (r186) -- (\t);
\foreach \t in {cxcl12,cbr3,mef2c} \draw[link] (r223) -- (\t);
\foreach \t in {r436,r844,il6r,sssca1,ttc28,cxcl12,r366,r69d,dnajc3,r855,spry2} \draw[link] (r23a) -- (\t);
\foreach \t in {wnt1,r697,r52k,r426,wfs1,r32255,pik3r1,plat,ac0937,tgfb1,r25k,ac0050,lpl,rp795,egfr,c12orf33,tnfaip3,adamts9,klf10,rbm26,linc341,ac0799,r361,fas,r492,ac0167,itgb1,akt1,spry2,foxo1,hoxd,traf3,ctc228,r665,wdfy3,tp53,r844,gcfc1} \draw[link] (r21) -- (\t);
\foreach \t in {r290,wnt1,r697,tgfb1,lpl,egfr,klf10,plat,pik3r1,akt1,itgb1,mef2c} \draw[link] (r185) -- (\t);
\foreach \t in {r697,wfs1,ac0937,tgfb1,rp795,c12orf33,tnfaip3,egfr,klf10,rbm26,itgb1,ctd2201,akt1,ac0587912,r492} \draw[link] (r29a) -- (\t);
\foreach \t in {ac0167,r492,ac0587912,itgb1,ctd2201,ac0799,rbm26,r844,r436} \draw[link] (r197) -- (\t);
\foreach \t in {ctc228,ac0167,hoxd,traf3,r16m,ac0732,loc678,foxo1,r665,hcg18} \draw[link] (r183) -- (\t);
\foreach \t in {ac0167,ctc228,foxo1,ac0732,r16m,ac0587912,r492,ctd2201} \draw[link] (r182) -- (\t);
\foreach \t in {foxo1,ac0587912,ac0732,icam1,r94k,sssca1,mir22hg} \draw[link] (r27a) -- (\t);
\foreach \t in {ac0732,loc678,mir22hg,r80b9,r16m,r540a} \draw[link] (r451) -- (\t);
\foreach \t in {tp73,r446,r16m,znfx1,loc678,ftx,ap0002,r21m7,r80b9,tp53,hcg18} \draw[link] (r96) -- (\t);
\foreach \t in {tp53,tp73,znf518a,r446,ap0002,tug1,ftx} \draw[link] (r326) -- (\t);
\foreach \t in {ap0002,tug1,r504,ctc497,znf518a,tp73,ftx,oip5} \draw[link] (r424) -- (\t);
\foreach \t in {tug1,oip5,atf6,ftx,r504,sec22b,tp53} \draw[link] (r25) -- (\t);
\foreach \t in {ftx,h19,atf6,oip5,tug1,sec22b,r528,dleu2} \draw[link] (r503) -- (\t);
\foreach \t in {r21m7,loc678,ftx,h19,cta217,znfx1,r80b9,mir22hg,icam1} \draw[link] (r222) -- (\t);
\foreach \t in {h19,ftx,cta217,croccp2,r528,r400k,sod2,icam1,r21m7,rdx,ac0099485} \draw[link] (r31) -- (\t);
\foreach \t in {mir22hg,r80b9,ac0875,icam1,cta217,r169,al1327} \draw[link] (r221) -- (\t);
\foreach \t in {ac0875,r169,al1327,r94k,mir22hg,cta217,ttc28} \draw[link] (r193b) -- (\t);
\end{scope}
\end{tikzpicture}
\end{document}
